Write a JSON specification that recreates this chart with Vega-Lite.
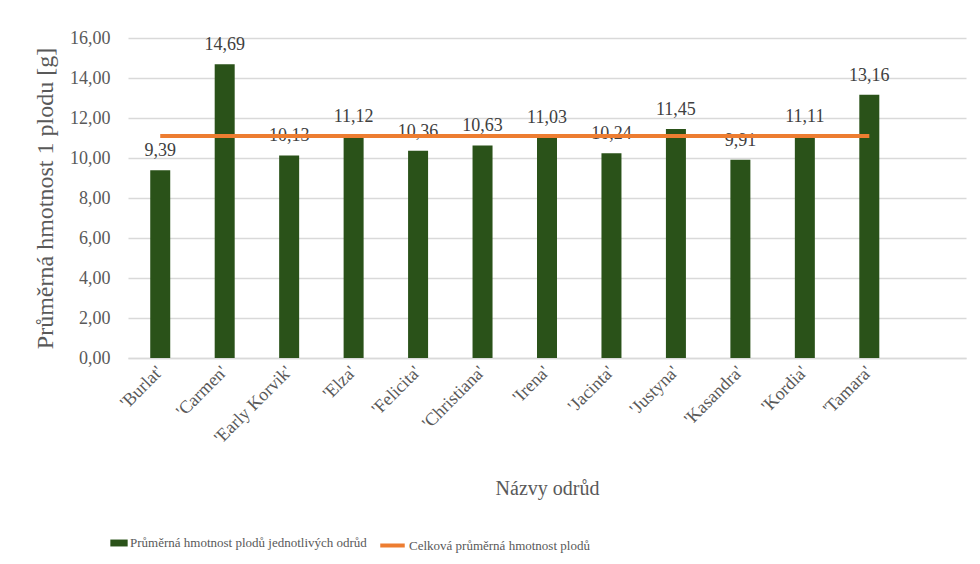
{
  "$schema": "https://vega.github.io/schema/vega-lite/v6.json",
  "width": 838,
  "height": 320,
  "autosize": {"type": "none"},
  "padding": {"left": 128, "top": 38, "right": 14, "bottom": 206},
  "background": "white",
  "config": {
    "font": "Liberation Serif",
    "view": {"stroke": null},
    "locale": {"number": {"decimal": ",", "thousands": " ", "grouping": [3], "currency": ["", " Kč"]}},
    "axis": {"labelColor": "#595959", "titleColor": "#595959", "labelFont": "Liberation Serif", "titleFont": "Liberation Serif", "titleFontWeight": "normal"},
    "legend": {"labelColor": "#595959", "labelFont": "Liberation Serif", "labelLimit": 0},
    "text": {"font": "Liberation Serif"}
  },
  "data": {
    "values": [
      {"odruda": "'Burlat'", "hmotnost": 9.39, "prumer": 11.10},
      {"odruda": "'Carmen'", "hmotnost": 14.69, "prumer": 11.10},
      {"odruda": "'Early Korvik'", "hmotnost": 10.13, "prumer": 11.10},
      {"odruda": "'Elza'", "hmotnost": 11.12, "prumer": 11.10},
      {"odruda": "'Felicita'", "hmotnost": 10.36, "prumer": 11.10},
      {"odruda": "'Christiana'", "hmotnost": 10.63, "prumer": 11.10},
      {"odruda": "'Irena'", "hmotnost": 11.03, "prumer": 11.10},
      {"odruda": "'Jacinta'", "hmotnost": 10.24, "prumer": 11.10},
      {"odruda": "'Justyna'", "hmotnost": 11.45, "prumer": 11.10},
      {"odruda": "'Kasandra'", "hmotnost": 9.91, "prumer": 11.10},
      {"odruda": "'Kordia'", "hmotnost": 11.11, "prumer": 11.10},
      {"odruda": "'Tamara'", "hmotnost": 13.16, "prumer": 11.10}
    ]
  },
  "encoding": {
    "x": {
      "field": "odruda",
      "type": "nominal",
      "sort": null,
      "scale": {
        "domain": ["'Burlat'", "'Carmen'", "'Early Korvik'", "'Elza'", "'Felicita'", "'Christiana'", "'Irena'", "'Jacinta'", "'Justyna'", "'Kasandra'", "'Kordia'", "'Tamara'", " "],
        "paddingInner": 0,
        "paddingOuter": 0
      },
      "axis": {
        "title": "Názvy odrůd",
        "titleFontSize": 20,
        "titlePadding": 32,
        "labelAngle": -45,
        "labelAlign": "right",
        "labelBaseline": "middle",
        "labelFontSize": 18,
        "labelPadding": 11,
        "labelOverlap": false,
        "ticks": false,
        "domainColor": "#D9D9D9",
        "domainWidth": 1.5
      }
    },
    "y": {
      "field": "hmotnost",
      "type": "quantitative",
      "scale": {"domain": [0, 16], "nice": false},
      "axis": {
        "title": "Průměrná hmotnost 1 plodu [g]",
        "titleFontSize": 24,
        "titlePadding": 12,
        "format": ".2f",
        "values": [0, 2, 4, 6, 8, 10, 12, 14, 16],
        "labelFontSize": 18,
        "labelPadding": 18,
        "labelOverlap": false,
        "ticks": false,
        "domain": false,
        "gridColor": "#D9D9D9",
        "gridWidth": 1.5
      }
    }
  },
  "layer": [
    {
      "mark": {"type": "bar", "size": 20},
      "encoding": {
        "fill": {
          "datum": "Průměrná hmotnost plodů jednotlivých odrůd",
          "type": "nominal",
          "scale": {"range": ["#2A5219"]},
          "legend": {
            "title": null,
            "orient": "none",
            "legendX": -18,
            "legendY": 496,
            "labelFontSize": 13,
            "labelLimit": 0,
            "symbolType": "M-1,-0.4H1V0.4H-1Z",
            "symbolSize": 300,
            "symbolStrokeWidth": 0,
            "labelOffset": 2
          }
        }
      }
    },
    {
      "mark": {"type": "text", "baseline": "bottom", "dy": -10, "fontSize": 18, "color": "#404040", "font": "Liberation Serif"},
      "encoding": {
        "text": {"field": "hmotnost", "type": "quantitative", "format": ".2f"}
      }
    },
    {
      "mark": {"type": "line", "strokeWidth": 4},
      "encoding": {
        "y": {
          "field": "prumer",
          "type": "quantitative",
          "scale": {"domain": [0, 16], "nice": false},
          "axis": {
            "title": "Průměrná hmotnost 1 plodu [g]",
            "titleFontSize": 24,
            "titlePadding": 12,
            "format": ".2f",
            "values": [0, 2, 4, 6, 8, 10, 12, 14, 16],
            "labelFontSize": 18,
            "labelPadding": 18,
            "labelOverlap": false,
            "ticks": false,
            "domain": false,
            "gridColor": "#D9D9D9",
            "gridWidth": 1.5
          }
        },
        "stroke": {
          "datum": "Celková průměrná hmotnost plodů",
          "type": "nominal",
          "scale": {"range": ["#ED7D31"]},
          "legend": {
            "title": null,
            "orient": "none",
            "legendX": 250,
            "legendY": 493,
            "labelFontSize": 13,
            "labelLimit": 0,
            "symbolType": "stroke",
            "symbolSize": 600,
            "symbolStrokeWidth": 4,
            "labelOffset": 2
          }
        }
      }
    }
  ]
}
